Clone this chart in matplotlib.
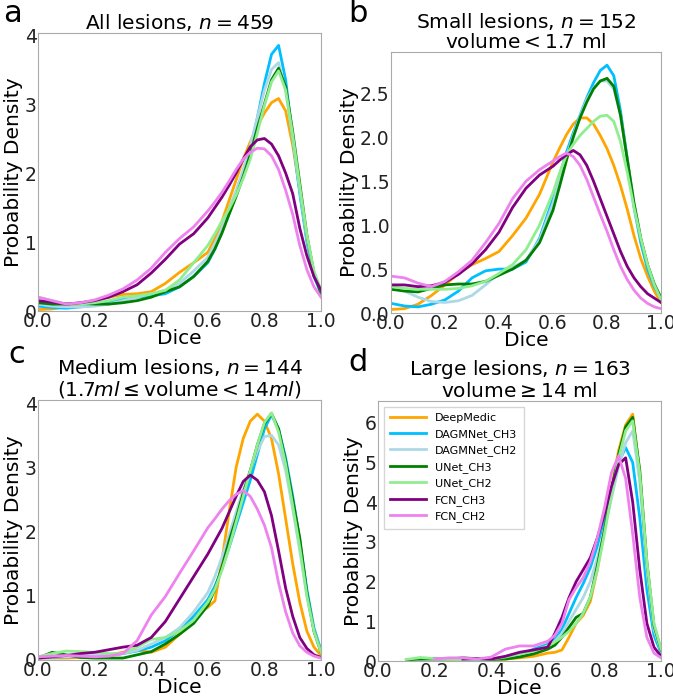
import numpy as np
import matplotlib
matplotlib.use("Agg")
import matplotlib.pyplot as plt

nan = np.nan

# Dice grid the densities are read at
dice = [0.0, 0.05, 0.1, 0.15, 0.2, 0.25, 0.3, 0.35, 0.4, 0.45, 0.5, 0.55, 0.6,
        0.625, 0.65, 0.675, 0.7, 0.725, 0.75, 0.775, 0.8, 0.825, 0.85, 0.875,
        0.9, 0.925, 0.95, 0.975, 1.0]

models = ["DeepMedic", "DAGMNet_CH3", "DAGMNet_CH2", "UNet_CH3", "UNet_CH2",
          "FCN_CH3", "FCN_CH2"]
colors = ["orange", "deepskyblue", "lightblue", "green", "lightgreen",
          "purple", "violet"]

# a: all lesions
a_dm = [0.02, 0.03, 0.06, 0.1, 0.15, 0.2, 0.24, 0.25, 0.28, 0.4, 0.56, 0.7, 0.85,
        1.05, 1.3, 1.6, 1.9, 2.2, 2.45, 2.68, 2.87, 3.02, 3.08, 2.9, 2.4, 1.75, 1.05, 0.55, 0.28]
a_dag3 = [0.07, 0.05, 0.04, 0.06, 0.08, 0.12, 0.17, 0.2, 0.22, 0.25, 0.35, 0.5, 0.7,
          0.9, 1.15, 1.42, 1.7, 2.0, 2.35, 2.8, 3.3, 3.72, 3.85, 3.35, 2.5, 1.7, 1.0, 0.5, 0.25]
a_dag2 = [0.1, 0.07, 0.06, 0.06, 0.07, 0.1, 0.15, 0.2, 0.25, 0.3, 0.4, 0.58, 0.78,
          0.98, 1.2, 1.48, 1.75, 2.05, 2.4, 2.8, 3.2, 3.5, 3.6, 3.2, 2.5, 1.75, 1.05, 0.55, 0.28]
a_unet3 = [0.12, 0.1, 0.1, 0.11, 0.1, 0.1, 0.12, 0.15, 0.2, 0.28, 0.35, 0.5, 0.72,
           0.9, 1.13, 1.4, 1.66, 1.95, 2.27, 2.65, 3.0, 3.35, 3.52, 3.25, 2.6, 1.85, 1.1, 0.55, 0.25]
a_unet2 = [0.2, 0.15, 0.1, 0.1, 0.12, 0.15, 0.2, 0.22, 0.25, 0.3, 0.45, 0.7, 0.95,
           1.12, 1.3, 1.48, 1.68, 1.92, 2.2, 2.58, 2.98, 3.32, 3.48, 3.2, 2.55, 1.8, 1.1, 0.58, 0.3]
a_fcn3 = [0.15, 0.13, 0.1, 0.12, 0.15, 0.2, 0.28, 0.38, 0.55, 0.75, 0.97, 1.12, 1.35,
          1.5, 1.65, 1.82, 2.0, 2.2, 2.38, 2.48, 2.5, 2.42, 2.25, 2.0, 1.7, 1.2, 0.8, 0.5, 0.3]
a_fcn2 = [0.2, 0.15, 0.1, 0.12, 0.16, 0.23, 0.32, 0.45, 0.62, 0.85, 1.05, 1.22, 1.45,
          1.58, 1.72, 1.88, 2.05, 2.2, 2.3, 2.36, 2.35, 2.25, 2.05, 1.75, 1.4, 0.95, 0.6, 0.35, 0.2]

# b: small lesions
b_dm = [0.04, 0.05, 0.1, 0.2, 0.32, 0.45, 0.55, 0.62, 0.7, 0.88, 1.08, 1.35, 1.72,
        1.88, 2.03, 2.15, 2.22, 2.22, 2.15, 2.02, 1.87, 1.68, 1.45, 1.18, 0.88, 0.62, 0.42, 0.25, 0.12]
b_dag3 = [0.11, 0.08, 0.07, 0.1, 0.15, 0.25, 0.4, 0.48, 0.5, 0.5, 0.58, 0.85, 1.3,
          1.57, 1.83, 2.05, 2.25, 2.45, 2.62, 2.76, 2.82, 2.7, 2.3, 1.75, 1.2, 0.8, 0.5, 0.3, 0.17]
b_dag2 = [0.3, 0.25, 0.18, 0.13, 0.12, 0.14, 0.2, 0.32, 0.45, 0.52, 0.6, 0.83, 1.25,
          1.52, 1.78, 2.02, 2.24, 2.43, 2.56, 2.64, 2.64, 2.55, 2.25, 1.75, 1.25, 0.85, 0.55, 0.33, 0.18]
b_unet3 = [0.27, 0.25, 0.24, 0.28, 0.32, 0.33, 0.33, 0.36, 0.43, 0.5, 0.6, 0.8, 1.17,
           1.45, 1.74, 2.0, 2.22, 2.4, 2.55, 2.64, 2.67, 2.58, 2.25, 1.75, 1.25, 0.85, 0.55, 0.33, 0.17]
b_unet2 = [0.3, 0.28, 0.27, 0.27, 0.27, 0.28, 0.31, 0.36, 0.45, 0.55, 0.72, 1.0, 1.37,
           1.6, 1.8, 1.92, 2.02, 2.1, 2.18, 2.24, 2.25, 2.18, 1.95, 1.6, 1.2, 0.85, 0.55, 0.32, 0.15]
b_fcn3 = [0.32, 0.32, 0.3, 0.31, 0.35, 0.44, 0.56, 0.72, 0.92, 1.2, 1.42, 1.57, 1.67,
          1.74, 1.8, 1.85, 1.8, 1.68, 1.5, 1.3, 1.1, 0.9, 0.7, 0.53, 0.4, 0.3, 0.22, 0.17, 0.12]
b_fcn2 = [0.42, 0.4, 0.34, 0.3, 0.36, 0.47, 0.6, 0.8, 1.02, 1.3, 1.5, 1.63, 1.73,
          1.78, 1.82, 1.78, 1.68, 1.52, 1.32, 1.12, 0.93, 0.72, 0.53, 0.38, 0.26, 0.17, 0.11, 0.07, 0.05]

# c: medium lesions
c_dm = [0.03, 0.03, 0.03, 0.04, 0.05, 0.08, 0.12, 0.15, 0.12, 0.2, 0.4, 0.68, 0.82,
        0.92, 1.55, 2.3, 3.0, 3.45, 3.72, 3.83, 3.72, 3.45, 2.9, 2.2, 1.5, 0.9, 0.45, 0.2, 0.07]
c_dag3 = [0.03, 0.04, 0.05, 0.05, 0.05, 0.07, 0.1, 0.14, 0.2, 0.3, 0.47, 0.68, 0.94,
          1.15, 1.42, 1.75, 2.1, 2.45, 2.8, 3.2, 3.6, 3.82, 3.6, 3.15, 2.55, 1.85, 1.1, 0.5, 0.15]
c_dag2 = [0.05, 0.05, 0.05, 0.06, 0.07, 0.08, 0.1, 0.15, 0.25, 0.35, 0.5, 0.75, 1.05,
          1.3, 1.6, 1.95, 2.3, 2.65, 2.95, 3.25, 3.48, 3.5, 3.35, 2.95, 2.35, 1.7, 1.0, 0.45, 0.12]
c_unet3 = [0.03, 0.12, 0.08, 0.04, 0.03, 0.03, 0.03, 0.08, 0.13, 0.25, 0.4, 0.57, 0.85,
           1.1, 1.45, 1.85, 2.2, 2.6, 2.95, 3.35, 3.68, 3.84, 3.6, 3.1, 2.5, 1.9, 1.05, 0.45, 0.12]
c_unet2 = [0.05, 0.1, 0.14, 0.13, 0.12, 0.1, 0.1, 0.2, 0.32, 0.35, 0.45, 0.62, 0.9,
           1.1, 1.4, 1.75, 2.15, 2.55, 2.95, 3.35, 3.7, 3.85, 3.55, 3.05, 2.4, 1.75, 1.0, 0.45, 0.12]
c_fcn3 = [0.03, 0.05, 0.07, 0.1, 0.12, 0.16, 0.2, 0.23, 0.35, 0.6, 0.95, 1.3, 1.65,
          1.85, 2.05, 2.3, 2.55, 2.78, 2.88, 2.8, 2.62, 2.25, 1.7, 1.12, 0.68, 0.35, 0.18, 0.08, 0.04]
c_fcn2 = [0.05, 0.06, 0.07, 0.06, 0.05, 0.06, 0.1, 0.3, 0.7, 0.99, 1.35, 1.7, 2.06,
          2.2, 2.35, 2.48, 2.58, 2.64, 2.55, 2.35, 2.1, 1.75, 1.2, 0.75, 0.42, 0.22, 0.12, 0.06, 0.03]

# d: large lesions
d_dm = [nan, nan, nan, nan, nan, 0.03, 0.05, 0.05, 0.05, 0.05, 0.08, 0.12, 0.2,
        0.22, 0.28, 0.6, 0.95, 1.15, 1.5, 2.3, 3.3, 4.35, 5.3, 5.95, 6.22, 4.7, 2.35, 0.8, 0.22]
d_dag3 = [nan, nan, nan, 0.05, 0.07, 0.06, 0.05, 0.05, 0.05, 0.08, 0.15, 0.3, 0.42,
          0.55, 0.8, 1.2, 1.6, 1.95, 2.35, 2.9, 3.6, 4.35, 5.0, 5.38, 5.0, 3.6, 1.8, 0.65, 0.2]
d_dag2 = [nan, nan, nan, 0.05, 0.06, 0.05, 0.05, 0.05, 0.05, 0.1, 0.15, 0.25, 0.38,
          0.5, 0.7, 1.0, 1.3, 1.6, 2.0, 2.6, 3.3, 4.1, 4.9, 5.5, 5.8, 4.5, 2.3, 0.8, 0.25]
d_unet3 = [nan, nan, 0.03, 0.05, 0.05, 0.05, 0.08, 0.06, 0.04, 0.05, 0.1, 0.18, 0.3,
           0.4, 0.6, 0.85, 1.1, 1.2, 1.6, 2.4, 3.3, 4.3, 5.2, 5.9, 6.14, 4.8, 2.5, 0.9, 0.28]
d_unet2 = [nan, nan, 0.04, 0.09, 0.06, 0.04, 0.05, 0.05, 0.05, 0.1, 0.18, 0.25, 0.38,
           0.48, 0.6, 0.75, 0.95, 1.2, 1.6, 2.3, 3.2, 4.2, 5.1, 5.8, 6.05, 4.7, 2.5, 0.95, 0.3]
d_fcn3 = [nan, nan, nan, nan, nan, nan, 0.05, 0.06, 0.05, 0.12, 0.22, 0.28, 0.35,
          0.7, 1.1, 1.6, 2.0, 2.3, 2.6, 3.1, 3.7, 4.4, 4.95, 5.12, 4.0, 2.3, 0.95, 0.35, 0.12]
d_fcn2 = [nan, nan, nan, nan, 0.05, 0.08, 0.08, 0.05, 0.1, 0.3, 0.38, 0.38, 0.5,
          0.65, 0.95, 1.55, 1.85, 2.1, 2.5, 3.1, 3.85, 4.75, 5.17, 4.6, 3.2, 1.6, 0.6, 0.2, 0.08]

panels = [
    ("a", "All lesions, $n = 459$", [a_dm, a_dag3, a_dag2, a_unet3, a_unet2, a_fcn3, a_fcn2],
     [0.0565, 0.5538, 0.4205, 0.3989], 4.03, [0, 1, 2, 3, 4], ["0", "1", "2", "3", "4"]),
    ("b", "Small lesions, $n = 152$\nvolume$<$1.7 ml", [b_dm, b_dag3, b_dag2, b_unet3, b_unet2, b_fcn3, b_fcn2],
     [0.581, 0.5509, 0.4012, 0.3745], 2.97, [0, 0.5, 1, 1.5, 2, 2.5],
     ["0.0", "0.5", "1.0", "1.5", "2.0", "2.5"]),
    ("c", "Medium lesions, $n = 144$\n($1.7ml\\leq$volume$<14ml$)",
     [c_dm, c_dag3, c_dag2, c_unet3, c_unet2, c_fcn3, c_fcn2],
     [0.0565, 0.0531, 0.4205, 0.373], 4.05, [0, 1, 2, 3, 4], ["0", "1", "2", "3", "4"]),
    ("d", "Large lesions, $n = 163$\nvolume$\\geq$14 ml", [d_dm, d_dag3, d_dag2, d_unet3, d_unet2, d_fcn3, d_fcn2],
     [0.5617, 0.0516, 0.4205, 0.373], 6.55, [0, 1, 2, 3, 4, 5, 6],
     ["0", "1", "2", "3", "4", "5", "6"]),
]

fig = plt.figure(figsize=(6.73, 6.97), dpi=100)

for letter, title, series, rect, ymax, yt, ytl in panels:
    ax = fig.add_axes(rect)
    for vals, name, col in zip(series, models, colors):
        ax.plot(dice, vals, color=col, lw=2, label=name)
    ax.set_xlim(0, 1)
    ax.set_ylim(0, ymax)
    ax.set_xticks([0, 0.2, 0.4, 0.6, 0.8, 1.0])
    ax.set_xticklabels(["0.0", "0.2", "0.4", "0.6", "0.8", "1.0"])
    ax.set_yticks(yt)
    ax.set_yticklabels(ytl)
    ax.tick_params(length=0, pad=1, labelsize=13.5, colors="#222222")
    for s in ax.spines.values():
        s.set_color("#aaaaaa")
    ax.set_xlabel("Dice", fontsize=14.5, labelpad=-2)
    ax.set_ylabel("Probability Density", fontsize=14.5, labelpad=1)
    ax.set_title(title, fontsize=14.5, pad=2, linespacing=1.05)
    if letter == "d":
        ax.legend(loc="upper left", fontsize=8, handlelength=3.2,
                  edgecolor="#cccccc", fancybox=False, borderpad=0.6)

fig.text(0.004, 1 - 22 / 697, "a", fontsize=22, va="baseline")
fig.text(348 / 673, 1 - 22 / 697, "b", fontsize=22, va="baseline")
fig.text(8 / 673, 1 - 363 / 697, "c", fontsize=22, va="baseline")
fig.text(348 / 673, 1 - 371 / 697, "d", fontsize=22, va="baseline")

fig.savefig("out.png", dpi=100)
